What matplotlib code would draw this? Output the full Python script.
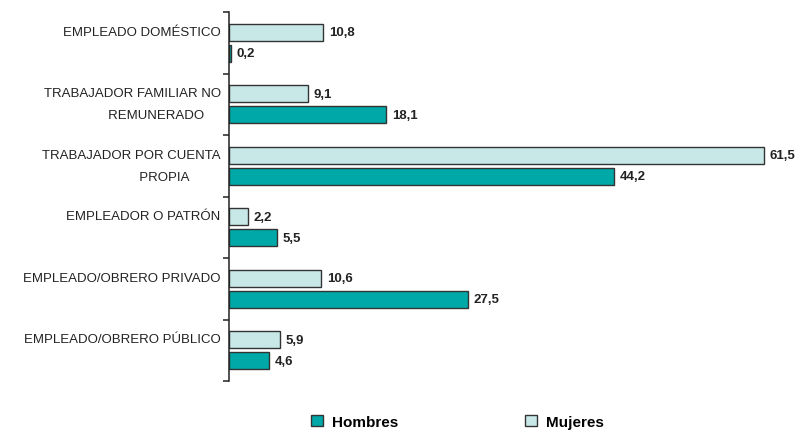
import matplotlib.pyplot as plt
from matplotlib.patches import Patch
import numpy as np

categorias = [
    "EMPLEADO DOMÉSTICO\n",
    "TRABAJADOR FAMILIAR NO\n" + " " * 13 + "REMUNERADO",
    "TRABAJADOR POR CUENTA\n" + " " * 18 + "PROPIA",
    "EMPLEADOR O PATRÓN\n",
    "EMPLEADO/OBRERO PRIVADO\n",
    "EMPLEADO/OBRERO PÚBLICO\n",
]
mujeres = [10.8, 9.1, 61.5, 2.2, 10.6, 5.9]
hombres = [0.2, 18.1, 44.2, 5.5, 27.5, 4.6]

color_h = "#00A8A8"
color_m = "#C8E8E8"
borde = "#333333"

plt.rcParams['font.family'] = ['Liberation Sans', 'DejaVu Sans']

fig = plt.figure(figsize=(8.01, 4.31), dpi=100)
ax = fig.add_axes([229 / 801, 1 - 382 / 431, 0.992 - 229 / 801, (382 - 13) / 431])

y = np.arange(len(categorias))
alto = 0.27
off = 0.171

ax.barh(y - off, mujeres, height=alto, color=color_m, edgecolor=borde, linewidth=1.0)
ax.barh(y + off, hombres, height=alto, color=color_h, edgecolor=borde, linewidth=1.0)

# Etiquetas de valores
for yi, v in zip(y - off, mujeres):
    ax.text(v + 0.65, yi, f"{v:.1f}".replace(".", ","), va="center", ha="left",
            fontsize=9.5, fontweight="bold", color="#222222")
for yi, v in zip(y + off, hombres):
    ax.text(v + 0.65, yi, f"{v:.1f}".replace(".", ","), va="center", ha="left",
            fontsize=9.5, fontweight="bold", color="#222222")

ax.set_xlim(0, 65)
ax.set_ylim(len(categorias) - 0.5, -0.5)

ax.set_yticks(y)
ax.set_yticklabels(categorias, fontsize=9.5, color="#222222", linespacing=2.1,
                   multialignment="center")
for lab in ax.get_yticklabels():
    lab.set_va("center")
ax.set_yticks(np.arange(-0.5, len(categorias), 1), minor=True)
ax.tick_params(axis="y", which="major", length=0, pad=6)
ax.tick_params(axis="y", which="minor", length=4, width=1.1, color="#222222")
ax.set_xticks([])

for s in ["top", "right", "bottom"]:
    ax.spines[s].set_visible(False)
ax.spines["left"].set_linewidth(1.1)
ax.spines["left"].set_color("#222222")

handles = [Patch(facecolor=color_h, edgecolor=borde, label="Hombres"),
           Patch(facecolor=color_m, edgecolor=borde, label="Mujeres")]
fig.legend(handles=handles, loc="center", bbox_to_anchor=(0.571, 0.019), ncol=2,
           frameon=False, prop={"size": 11, "weight": "bold"},
           handlelength=0.8, handleheight=0.8, handletextpad=0.6, columnspacing=8.3)

fig.savefig("out.png", dpi=100)
